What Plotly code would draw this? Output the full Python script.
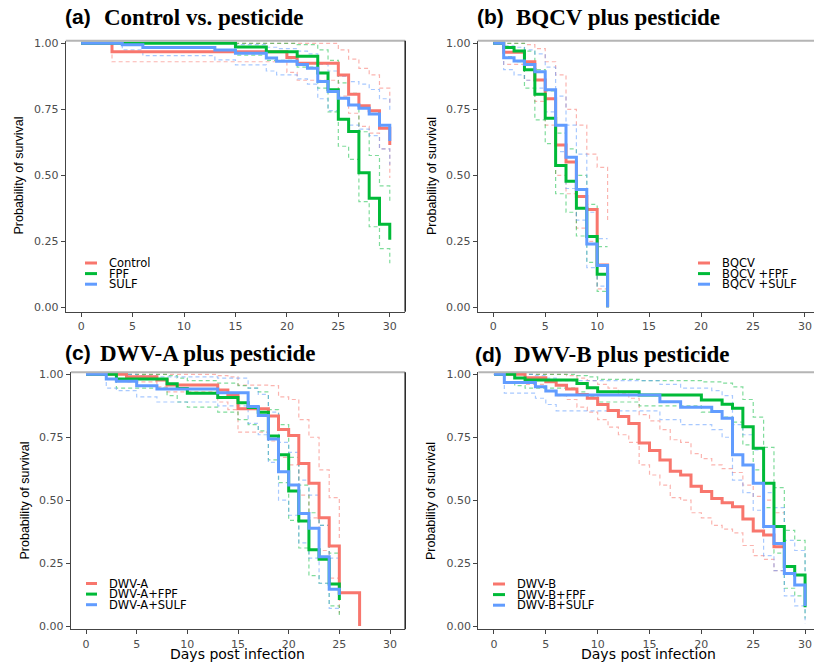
import plotly.graph_objects as go

# ---------------- data ----------------
X_TICKS = [0, 5, 10, 15, 20, 25, 30]
Y_TICKS = [0, 0.25, 0.5, 0.75, 1.0]
Y_TICK_TEXT = ["0.00", "0.25", "0.50", "0.75", "1.00"]

PANEL_TITLES = ["Control vs. pesticide", "BQCV plus pesticide",
                "DWV-A plus pesticide", "DWV-B plus pesticide"]
PANEL_TAGS = ["(a)", "(b)", "(c)", "(d)"]
GROUPS_A = ["Control", "FPF", "SULF"]
GROUPS_B = ["BQCV", "BQCV +FPF", "BQCV +SULF"]
GROUPS_C = ["DWV-A", "DWV-A+FPF", "DWV-A+SULF"]
GROUPS_D = ["DWV-B", "DWV-B+FPF", "DWV-B+SULF"]

# (a) Control vs. pesticide
A_CTRL_T = [0, 3, 20, 21, 25, 26, 27, 28, 29, 30]
A_CTRL_S = [1, 0.968, 0.946, 0.924, 0.88, 0.807, 0.763, 0.744, 0.678, 0.615]
A_CTRL_U = [1, 1, 1, 1, 0.975, 0.94, 0.905, 0.88, 0.83, 0.77]
A_CTRL_L = [1, 0.93, 0.89, 0.86, 0.80, 0.735, 0.685, 0.66, 0.60, 0.49]

A_FPF_T = [0, 15, 18, 21, 23, 24, 25, 26, 27, 28, 29, 30]
A_FPF_S = [1, 0.986, 0.968, 0.951, 0.887, 0.824, 0.712, 0.666, 0.51, 0.413, 0.315, 0.256]
A_FPF_U = [1, 1, 1, 0.995, 0.975, 0.935, 0.85, 0.81, 0.665, 0.575, 0.46, 0.40]
A_FPF_L = [1, 0.955, 0.935, 0.91, 0.83, 0.74, 0.61, 0.56, 0.40, 0.305, 0.222, 0.167]

A_SULF_T = [0, 4, 6, 13, 15, 18, 19, 21, 22, 23, 24, 25, 26, 27, 28, 29, 30]
A_SULF_S = [1, 0.994, 0.984, 0.975, 0.962, 0.944, 0.932, 0.92, 0.905, 0.855, 0.817,
            0.792, 0.766, 0.754, 0.732, 0.69, 0.63]
A_SULF_U = [1, 1, 1, 1, 0.995, 0.985, 0.98, 0.97, 0.96, 0.92, 0.895, 0.875, 0.855,
            0.845, 0.825, 0.79, 0.74]
A_SULF_L = [1, 0.975, 0.953, 0.937, 0.918, 0.895, 0.88, 0.865, 0.845, 0.79, 0.745,
            0.715, 0.69, 0.675, 0.65, 0.60, 0.54]

# (b) BQCV plus pesticide
B_V_T = [0, 1, 3, 4, 5, 6, 7, 8, 9, 10, 11]
B_V_S = [1, 0.966, 0.93, 0.861, 0.79, 0.615, 0.55, 0.42, 0.37, 0.16, 0]
B_V_U = [1, 1, 0.995, 0.98, 0.93, 0.88, 0.75, 0.69, 0.58, 0.53, 0.32]
B_V_L = [1, 0.92, 0.86, 0.78, 0.69, 0.50, 0.43, 0.30, 0.25, 0.07, 0.07]

B_FPF_T = [0, 1, 2, 3, 4, 5, 6, 7, 8, 9, 10, 11]
B_FPF_S = [1, 0.984, 0.971, 0.90, 0.807, 0.716, 0.537, 0.477, 0.375, 0.268, 0.125, 0]
B_FPF_U = [1, 1, 1, 0.97, 0.90, 0.82, 0.66, 0.60, 0.50, 0.39, 0.23, 0.23]
B_FPF_L = [1, 0.95, 0.93, 0.83, 0.71, 0.62, 0.43, 0.36, 0.27, 0.17, 0.06, 0.06]

B_SULF_T = [0, 1, 2, 3, 4, 5, 6, 7, 8, 9, 10, 11]
B_SULF_S = [1, 0.945, 0.933, 0.92, 0.892, 0.824, 0.69, 0.568, 0.446, 0.24, 0.158, 0]
B_SULF_U = [1, 0.99, 0.985, 0.975, 0.96, 0.91, 0.80, 0.69, 0.58, 0.36, 0.26, 0.26]
B_SULF_L = [1, 0.90, 0.88, 0.86, 0.83, 0.74, 0.59, 0.45, 0.33, 0.15, 0.08, 0.08]

# (c) DWV-A plus pesticide
C_V_T = [0, 4, 7, 8, 13, 14, 15, 18, 19, 20, 21, 22, 23, 24, 25, 27]
C_V_S = [1, 0.99, 0.977, 0.958, 0.938, 0.918, 0.863, 0.834, 0.781, 0.757, 0.646,
         0.567, 0.43, 0.318, 0.132, 0]
C_V_U = [1, 1, 1, 1, 0.995, 0.99, 0.957, 0.955, 0.91, 0.90, 0.82, 0.75, 0.62, 0.51, 0.35]
C_V_L = [1, 0.97, 0.95, 0.93, 0.89, 0.86, 0.77, 0.735, 0.67, 0.64, 0.52, 0.43, 0.30, 0.19, 0.05]

C_FPF_T = [0, 3, 8, 9, 10, 13, 15, 16, 17, 18, 19, 20, 21, 22, 23, 24, 25]
C_FPF_S = [1, 0.981, 0.963, 0.944, 0.925, 0.908, 0.887, 0.868, 0.849, 0.755, 0.68,
           0.536, 0.417, 0.303, 0.265, 0.167, 0.103]
C_FPF_U = [1, 1, 0.995, 0.985, 0.975, 0.965, 0.955, 0.945, 0.93, 0.86, 0.80, 0.67,
           0.56, 0.45, 0.40, 0.29, 0.20]
C_FPF_L = [1, 0.945, 0.915, 0.89, 0.87, 0.85, 0.82, 0.80, 0.775, 0.66, 0.57, 0.42,
           0.31, 0.20, 0.17, 0.08, 0.04]

C_SULF_T = [0, 2, 3, 5, 7, 13, 16, 17, 18, 19, 20, 21, 22, 23, 24, 25]
C_SULF_S = [1, 0.981, 0.972, 0.955, 0.942, 0.927, 0.872, 0.836, 0.743, 0.613, 0.56,
            0.447, 0.388, 0.275, 0.146, 0.123]
C_SULF_U = [1, 1, 1, 0.995, 0.99, 0.985, 0.945, 0.92, 0.85, 0.73, 0.69, 0.58, 0.52,
            0.40, 0.27, 0.24]
C_SULF_L = [1, 0.945, 0.935, 0.91, 0.89, 0.875, 0.805, 0.76, 0.65, 0.50, 0.44, 0.33,
            0.27, 0.17, 0.07, 0.06]

# (d) DWV-B plus pesticide
D_V_T = [0, 3, 5, 6, 7, 8, 9, 10, 11, 12, 13, 14, 15, 16, 17, 18, 19, 20, 21, 22,
         23, 24, 25, 26, 27, 28]
D_V_S = [1, 0.986, 0.97, 0.957, 0.942, 0.92, 0.905, 0.88, 0.856, 0.832, 0.805, 0.727,
         0.697, 0.66, 0.615, 0.60, 0.555, 0.534, 0.507, 0.49, 0.474, 0.425, 0.378,
         0.362, 0.315, 0.315]
D_V_U = [1, 1, 1, 1, 0.995, 0.985, 0.975, 0.96, 0.945, 0.925, 0.905, 0.84, 0.815,
         0.78, 0.74, 0.73, 0.685, 0.665, 0.64, 0.625, 0.61, 0.56, 0.515, 0.50, 0.45, 0.45]
D_V_L = [1, 0.96, 0.935, 0.915, 0.90, 0.87, 0.85, 0.82, 0.79, 0.76, 0.73, 0.64, 0.60,
         0.56, 0.51, 0.50, 0.45, 0.43, 0.40, 0.385, 0.37, 0.32, 0.28, 0.265, 0.22, 0.22]

D_FPF_T = [0, 2, 3, 8, 9, 10, 14, 20, 22, 23, 24, 25, 26, 27, 28, 29, 30]
D_FPF_S = [1, 0.985, 0.977, 0.964, 0.947, 0.931, 0.918, 0.898, 0.881, 0.865, 0.792,
           0.706, 0.567, 0.395, 0.236, 0.203, 0.075]
D_FPF_U = [1, 1, 1, 0.995, 0.99, 0.98, 0.975, 0.97, 0.965, 0.95, 0.90, 0.83, 0.71,
           0.55, 0.38, 0.34, 0.20]
D_FPF_L = [1, 0.955, 0.945, 0.93, 0.91, 0.89, 0.875, 0.85, 0.83, 0.81, 0.72, 0.62,
           0.47, 0.29, 0.15, 0.12, 0.03]

D_SULF_T = [0, 1, 4, 5, 6, 16, 18, 21, 22, 23, 24, 25, 26, 27, 28, 29, 30]
D_SULF_S = [1, 0.967, 0.951, 0.934, 0.918, 0.891, 0.869, 0.852, 0.825, 0.68, 0.64,
            0.567, 0.395, 0.328, 0.209, 0.163, 0.08]
D_SULF_U = [1, 1, 0.995, 0.985, 0.975, 0.96, 0.945, 0.935, 0.915, 0.80, 0.76, 0.70,
            0.53, 0.47, 0.34, 0.30, 0.20]
D_SULF_L = [1, 0.925, 0.905, 0.88, 0.855, 0.82, 0.80, 0.78, 0.75, 0.58, 0.53, 0.46,
            0.28, 0.22, 0.12, 0.08, 0.01]

COLORS = ["#F8766D", "#00BA38", "#619CFF"]
CI_COLORS = ["rgba(248,118,109,0.55)", "rgba(0,186,56,0.5)", "rgba(97,156,255,0.55)"]

# ---------------- layout helpers ----------------
W, H = 814, 662


def fx(px):
    return px / W


def fy(py):
    return 1 - py / H


PANELS = [
    # axis suffix, x px domain, y px domain, x range, y range, right border, groups, series
    ("", (65.7, 405.2), (40.7, 311.7), [-1.5, 31.5], [-0.0167, 1.0098], True, GROUPS_A,
     [(A_CTRL_T, A_CTRL_S, A_CTRL_U, A_CTRL_L), (A_FPF_T, A_FPF_S, A_FPF_U, A_FPF_L),
      (A_SULF_T, A_SULF_S, A_SULF_U, A_SULF_L)]),
    ("2", (477.7, 814), (40.7, 311.7), [-1.5, 30.87], [-0.0167, 1.0098], False, GROUPS_B,
     [(B_V_T, B_V_S, B_V_U, B_V_L), (B_FPF_T, B_FPF_S, B_FPF_U, B_FPF_L),
      (B_SULF_T, B_SULF_S, B_SULF_U, B_SULF_L)]),
    ("3", (70.8, 405.2), (372.3, 629.3), [-1.5, 31.5], [-0.013, 1.008], True, GROUPS_C,
     [(C_V_T, C_V_S, C_V_U, C_V_L), (C_FPF_T, C_FPF_S, C_FPF_U, C_FPF_L),
      (C_SULF_T, C_SULF_S, C_SULF_U, C_SULF_L)]),
    ("4", (478.4, 814), (372.3, 629.3), [-1.5, 30.86], [-0.013, 1.008], False, GROUPS_D,
     [(D_V_T, D_V_S, D_V_U, D_V_L), (D_FPF_T, D_FPF_S, D_FPF_U, D_FPF_L),
      (D_SULF_T, D_SULF_S, D_SULF_U, D_SULF_L)]),
]

# title positions: (tag x, title x, center y)
TITLE_POS = [(63, 102, 17), (475, 514, 17), (63, 98, 353), (473, 512, 354)]
# legend: (line x0, line x1, text x, first row y)
LEGEND_POS = [(85, 97, 107, 263), (698, 710, 720, 263), (86, 97, 107, 583.5), (493, 505, 515, 584)]
YTITLE_POS = [(18.5, 176), (432, 176), (24.5, 501), (431, 501)]
XTITLE_POS = [None, None, (238, 654), (648, 654)]

fig = go.Figure()
shapes = []
annotations = []
layout_axes = {}

for i, (suf, xd, yd, xr, yr, right_border, groups, series) in enumerate(PANELS):
    xa, ya = "x" + suf, "y" + suf
    # confidence bands (dashed steps)
    for g, (t, s, u, l) in enumerate(series):
        for band in (u, l):
            fig.add_trace(go.Scatter(
                x=t[:len(band)], y=band, xaxis=xa, yaxis=ya, mode="lines",
                line=dict(color=CI_COLORS[g], width=1.2, dash="4px,3px", shape="hv"),
                showlegend=False, hoverinfo="skip"))
    # survival curves
    for g, (t, s, u, l) in enumerate(series):
        fig.add_trace(go.Scatter(
            x=t, y=s, xaxis=xa, yaxis=ya, mode="lines",
            line=dict(color=COLORS[g], width=3, shape="hv"),
            name=groups[g], showlegend=False))

    axis_common = dict(showgrid=False, zeroline=False, showline=True, linecolor="#444",
                       linewidth=1.2, ticks="outside", ticklen=4, tickcolor="#444",
                       tickwidth=1, automargin=False, ticklabeloverflow="allow",
                       tickfont=dict(family="DejaVu Sans", size=11, color="#4d4d4d"))
    layout_axes["xaxis" + suf] = dict(axis_common, domain=[fx(xd[0]), min(fx(xd[1]), 1)],
                                      range=xr, anchor=ya, tickvals=X_TICKS)
    layout_axes["yaxis" + suf] = dict(axis_common, domain=[fy(yd[1]), fy(yd[0])], range=yr,
                                      anchor=xa, tickvals=Y_TICKS, ticktext=Y_TICK_TEXT)

    # top border (light) and right border (dark)
    shapes.append(dict(type="line", xref=xa + " domain", yref=ya + " domain", x0=0, x1=1,
                       y0=1, y1=1, line=dict(color="#b5b5b5", width=2)))
    if right_border:
        shapes.append(dict(type="line", xref=xa + " domain", yref=ya + " domain", x0=1, x1=1,
                           y0=0, y1=1, line=dict(color="#222", width=1.5)))

    # panel title
    tx, ttx, ty = TITLE_POS[i]
    annotations.append(dict(xref="paper", yref="paper", x=fx(tx), y=fy(ty), xanchor="left",
                            yanchor="middle", showarrow=False, text="<b>" + PANEL_TAGS[i] + "</b>",
                            font=dict(family="Liberation Sans", size=21, color="black")))
    annotations.append(dict(xref="paper", yref="paper", x=fx(ttx), y=fy(ty + 0.5), xanchor="left",
                            yanchor="middle", showarrow=False, text="<b>" + PANEL_TITLES[i] + "</b>",
                            font=dict(family="Liberation Serif", size=23, color="black")))

    # y-axis title
    yx, yy = YTITLE_POS[i]
    annotations.append(dict(xref="paper", yref="paper", x=fx(yx), y=fy(yy), xanchor="center",
                            yanchor="middle", showarrow=False, textangle=-90,
                            text="Probability of survival",
                            font=dict(family="Liberation Sans", size=12.5, color="black")))
    if XTITLE_POS[i]:
        xx, xy = XTITLE_POS[i]
        annotations.append(dict(xref="paper", yref="paper", x=fx(xx), y=fy(xy), xanchor="center",
                                yanchor="middle", showarrow=False, text="Days post infection",
                                font=dict(family="DejaVu Sans", size=14, color="black")))

    # legend (inside plot)
    lx0, lx1, ltx, ly = LEGEND_POS[i]
    for g, name in enumerate(groups):
        yy_ = ly + g * 10.6
        shapes.append(dict(type="line", xref="paper", yref="paper", x0=fx(lx0), x1=fx(lx1),
                           y0=fy(yy_), y1=fy(yy_), line=dict(color=COLORS[g], width=3)))
        annotations.append(dict(xref="paper", yref="paper", x=fx(ltx), y=fy(yy_), xanchor="left",
                                yanchor="middle", showarrow=False, text=name,
                                font=dict(family="DejaVu Sans", size=11.5, color="black")))

fig.update_layout(
    width=W, height=H, margin=dict(l=0, r=0, t=0, b=0),
    paper_bgcolor="white", plot_bgcolor="white", showlegend=False,
    shapes=shapes, annotations=annotations, **layout_axes)

# remove the browser's default 8px page margin so the figure fills the window exactly
fig.write_html("out.html", config={"displayModeBar": False},
               post_script="document.body.style.margin='0';document.body.style.overflow='hidden';")
